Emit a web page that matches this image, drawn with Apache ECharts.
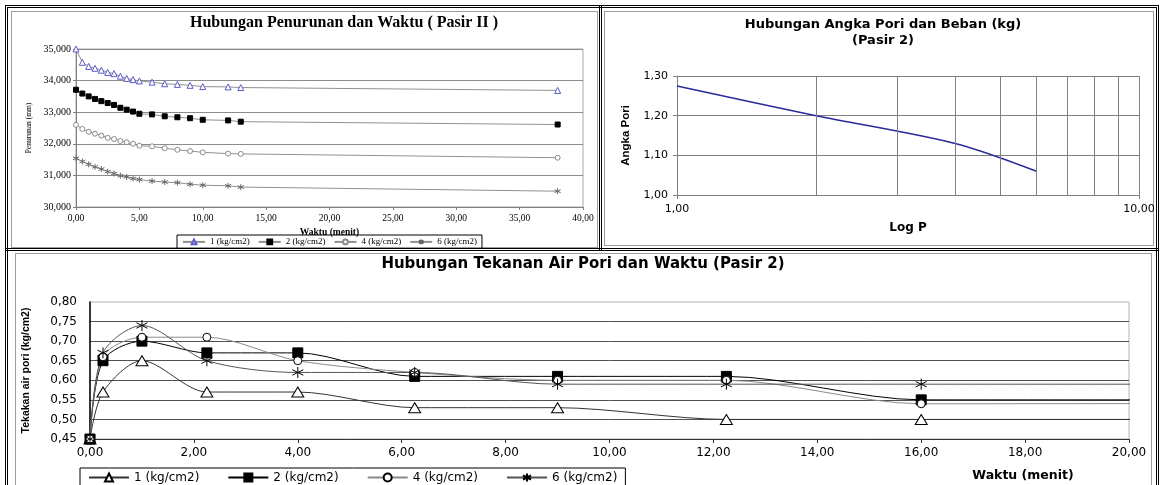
<!DOCTYPE html>
<html>
<head>
<meta charset="utf-8">
<script src="https://cdn.jsdelivr.net/npm/echarts@6/dist/echarts.min.js"></script>
<style>
  html, body { margin: 0; padding: 0; background: #fff; }
  body { width: 1161px; height: 485px; position: relative; overflow: hidden; }
  .box { position: absolute; box-sizing: border-box; }
  #outer { left: 5px; top: 5px; width: 1154px; height: 500px; border: 3px double #000; }
  #sepV { left: 599px; top: 5px; width: 4px; height: 245px; border-left: 3px double #000; }
  #sepH { left: 5px; top: 248px; width: 1154px; height: 4px; border-top: 3px double #000; }
  .panel { border: 1px solid #9c9c9c; }
  #panelA { left: 11px; top: 11px; width: 587px; height: 237px; }
  #panelB { left: 604px; top: 11px; width: 550px; height: 235px; }
  #panelC { left: 15px; top: 253px; width: 1137px; height: 250px; }
  .chart { position: absolute; }
  #chartA { left: 8px; top: 8px; width: 591px; height: 241px; }
  #chartB { left: 600px; top: 8px; width: 558px; height: 241px; }
  #chartC { left: 8px; top: 251px; width: 1147px; height: 234px; }
</style>
</head>
<body>
<div class="box" id="outer"></div>
<div class="box" id="sepV"></div>
<div class="box" id="sepH"></div>
<div class="box panel" id="panelA"></div>
<div class="box panel" id="panelB"></div>
<div class="box panel" id="panelC"></div>
<div class="chart" id="chartA"></div>
<div class="chart" id="chartB"></div>
<div class="chart" id="chartC"></div>
<script>
// beban (load) names, shared by both legends
const loadNames = ['1 (kg/cm2)', '2 (kg/cm2)', '4 (kg/cm2)', '6 (kg/cm2)'];

// penurunan vs waktu (mm, menit)
const settleTime = [0, 0.5, 1, 1.5, 2, 2.5, 3, 3.5, 4, 4.5, 5, 6, 7, 8, 9, 10, 12, 13, 38];
const settle1 = [35.00, 34.58, 34.45, 34.39, 34.33, 34.26, 34.22, 34.14, 34.07, 34.03, 33.99, 33.95, 33.90, 33.88, 33.85, 33.81, 33.80, 33.78, 33.69];
const settle2 = [33.71, 33.59, 33.50, 33.42, 33.35, 33.29, 33.23, 33.14, 33.08, 33.02, 32.95, 32.93, 32.87, 32.84, 32.81, 32.76, 32.74, 32.70, 32.61];
const settle4 = [32.60, 32.47, 32.38, 32.32, 32.26, 32.19, 32.15, 32.09, 32.05, 32.00, 31.94, 31.92, 31.86, 31.81, 31.77, 31.73, 31.69, 31.68, 31.56];
const settle6 = [31.54, 31.44, 31.35, 31.27, 31.20, 31.12, 31.06, 30.99, 30.95, 30.90, 30.87, 30.82, 30.79, 30.77, 30.72, 30.69, 30.67, 30.63, 30.50];

// angka pori vs beban (log P)
const loadP = [1, 2, 4, 6];
const voidRatio = [1.275, 1.200, 1.130, 1.060];
const logGridP = [2, 3, 4, 5, 6, 7, 8, 9];

// tekanan air pori vs waktu (kg/cm2, menit)
const poreTime = [0, 0.25, 1, 2.25, 4, 6.25, 9, 12.25, 16, 38];
const pore1 = [0.45, 0.57, 0.65, 0.57, 0.57, 0.53, 0.53, 0.50, 0.50, 0.50];
const pore2 = [0.45, 0.65, 0.70, 0.67, 0.67, 0.61, 0.61, 0.61, 0.55, 0.55];
const pore4 = [0.45, 0.66, 0.71, 0.71, 0.65, 0.62, 0.60, 0.60, 0.54, 0.545];
const pore6 = [0.45, 0.67, 0.74, 0.65, 0.62, 0.62, 0.59, 0.59, 0.59, 0.59];

const serif = '"Liberation Serif", "Times New Roman", serif';
const sans = '"DejaVu Sans", sans-serif';
const arial = '"Liberation Sans", Arial, sans-serif';
const starPath = 'path://M5,0L5,10M0.7,2.5L9.3,7.5M9.3,2.5L0.7,7.5';

function comma(v, d) {
  return Number(v).toFixed(d).replace('.', ',');
}
function pairs(xs, ys) {
  return xs.map((x, i) => [x, ys[i]]);
}

// ---------- Hubungan Penurunan dan Waktu ----------
const chartA = echarts.init(document.getElementById('chartA'));
const styleA = [
  { data: settle1, symbol: 'triangle', size: 6, fill: '#fff', stroke: '#5a5ac8' },
  { data: settle2, symbol: 'rect', size: 5, fill: '#000', stroke: '#000' },
  { data: settle4, symbol: 'circle', size: 5, fill: '#fff', stroke: '#8a8a8a' },
  { data: settle6, symbol: starPath, size: 6, fill: 'none', stroke: '#666' }
];
chartA.setOption({
  animation: false,
  title: {
    text: 'Hubungan Penurunan dan Waktu ( Pasir II )',
    left: 336, top: 7, textAlign: 'center', padding: 0,
    textStyle: { fontFamily: serif, fontSize: 16, fontWeight: 'bold', color: '#000' }
  },
  grid: { left: 68, right: 16, top: 41, bottom: 42, show: true, borderColor: '#a8a8a8', borderWidth: 1 },
  legend: {
    data: loadNames, left: 169, top: 227, padding: [2, 5], itemGap: 8,
    itemWidth: 22, itemHeight: 6, borderColor: '#000', borderWidth: 1,
    textStyle: { fontFamily: serif, fontSize: 9, color: '#000' }
  },
  xAxis: {
    type: 'value', min: 0, max: 40, interval: 5,
    name: 'Waktu (menit)', nameLocation: 'middle', nameGap: 18,
    nameTextStyle: { fontFamily: serif, fontSize: 9.5, fontWeight: 'bold', color: '#000' },
    axisLine: { lineStyle: { color: '#808080' } },
    axisTick: { length: 3, lineStyle: { color: '#808080' } },
    axisLabel: { margin: 6, formatter: v => comma(v, 2), fontFamily: serif, fontSize: 9.5, color: '#000' },
    splitLine: { show: false }
  },
  yAxis: {
    type: 'value', min: 30, max: 35, interval: 1,
    name: 'Penurunan (mm)', nameLocation: 'middle', nameGap: 43,
    nameTextStyle: { fontFamily: serif, fontSize: 7.5, color: '#000' },
    axisLine: { show: true, lineStyle: { color: '#808080' } },
    axisTick: { show: true, length: 3, lineStyle: { color: '#808080' } },
    axisLabel: { margin: 5, formatter: v => comma(v, 3), fontFamily: serif, fontSize: 10, color: '#000' },
    splitLine: { lineStyle: { color: '#8c8c8c' } }
  },
  series: styleA.map((s, i) => ({
    name: loadNames[i], type: 'line', data: pairs(settleTime, s.data),
    symbol: s.symbol, symbolSize: s.size,
    itemStyle: { color: s.fill, borderColor: s.stroke, borderWidth: 1 },
    lineStyle: { color: '#8f8f8f', width: 1 }
  }))
});

// ---------- Hubungan Angka Pori dan Beban ----------
const chartB = echarts.init(document.getElementById('chartB'));
chartB.setOption({
  animation: false,
  title: {
    text: 'Hubungan Angka Pori dan Beban (kg)\n(Pasir 2)',
    left: 283, top: 9, textAlign: 'center', padding: 0,
    textStyle: { fontFamily: sans, fontSize: 13, fontWeight: 'bold', color: '#000', lineHeight: 16 }
  },
  grid: { left: 77, right: 19, top: 68, bottom: 54 },
  xAxis: {
    type: 'log', logBase: 10, min: 1, max: 10,
    name: 'Log P', nameLocation: 'middle', nameGap: 27,
    nameTextStyle: { fontFamily: sans, fontSize: 12, fontWeight: 'bold', color: '#000' },
    axisLine: { lineStyle: { color: '#808080' } },
    axisTick: { length: 4, lineStyle: { color: '#808080' } },
    axisLabel: { margin: 9, showMinLabel: true, showMaxLabel: true, formatter: v => comma(v, 2), fontFamily: sans, fontSize: 11, color: '#000' },
    splitLine: { show: true, lineStyle: { color: '#808080' } }
  },
  yAxis: {
    type: 'value', min: 1.0, max: 1.3, interval: 0.1,
    name: 'Angka Pori', nameLocation: 'middle', nameGap: 45,
    nameTextStyle: { fontFamily: arial, fontSize: 11.5, fontWeight: 'bold', color: '#000' },
    axisLine: { show: true, lineStyle: { color: '#808080' } },
    axisTick: { show: true, length: 4, lineStyle: { color: '#808080' } },
    axisLabel: { margin: 9, formatter: v => comma(v, 2), fontFamily: sans, fontSize: 11, color: '#000' },
    splitLine: { lineStyle: { color: '#808080' } }
  },
  series: [{
    type: 'line', data: pairs(loadP, voidRatio), showSymbol: false, smooth: 0.3,
    lineStyle: { color: '#2a2a9c', width: 1.5 },
    markLine: {
      silent: true, symbol: ['none', 'none'], label: { show: false },
      lineStyle: { color: '#808080', type: 'solid', width: 1 },
      data: logGridP.map(p => ({ xAxis: p }))
    }
  }]
});

// ---------- Hubungan Tekanan Air Pori dan Waktu ----------
const chartC = echarts.init(document.getElementById('chartC'));
const styleC = [
  { data: pore1, symbol: 'triangle', size: [12, 10], fill: '#fff', stroke: '#000', line: '#333' },
  { data: pore2, symbol: 'rect', size: 10, fill: '#000', stroke: '#000', line: '#000' },
  { data: pore4, symbol: 'circle', size: 8, fill: '#fff', stroke: '#000', line: '#8a8a8a' },
  { data: pore6, symbol: starPath, size: 11, fill: 'none', stroke: '#000', line: '#555' }
];
chartC.setOption({
  animation: false,
  title: {
    text: 'Hubungan Tekanan Air Pori dan Waktu (Pasir 2)',
    left: 575, top: 6, textAlign: 'center', padding: 0,
    textStyle: { fontFamily: sans, fontSize: 15, fontWeight: 'bold', color: '#000' }
  },
  grid: { left: 82, right: 26, top: 51, bottom: 46, show: true, borderColor: '#b4b4b4', borderWidth: 1 },
  legend: {
    data: loadNames, left: 72, top: 217, padding: [3, 8], itemGap: 28,
    itemWidth: 40, itemHeight: 10, borderColor: '#000', borderWidth: 1,
    textStyle: { fontFamily: sans, fontSize: 12, color: '#000' }
  },
  graphic: [{
    type: 'text', x: 1015, y: 225,
    style: { text: 'Waktu (menit)', align: 'center', verticalAlign: 'middle', fontFamily: sans, fontSize: 12.5, fontWeight: 'bold', fill: '#000' }
  }],
  xAxis: {
    type: 'value', min: 0, max: 20, interval: 2,
    axisLine: { lineStyle: { color: '#333' } },
    axisTick: { length: 4, lineStyle: { color: '#333' } },
    axisLabel: { margin: 8, formatter: v => comma(v, 2), fontFamily: sans, fontSize: 12, color: '#000' },
    splitLine: { show: false }
  },
  yAxis: {
    type: 'value', min: 0.45, max: 0.80, interval: 0.05,
    name: 'Tekakan air pori (kg/cm2)', nameLocation: 'middle', nameGap: 58,
    nameTextStyle: { fontFamily: arial, fontSize: 10.5, fontWeight: 'bold', color: '#000' },
    axisLine: { show: true, lineStyle: { color: '#000', width: 1.5 } },
    axisTick: { show: false },
    axisLabel: { margin: 13, formatter: v => comma(v, 2), fontFamily: sans, fontSize: 12, color: '#000' },
    splitLine: { showMaxLine: false, lineStyle: { color: '#505050' } }
  },
  series: styleC.map((s, i) => ({
    name: loadNames[i], type: 'line', data: pairs(poreTime, s.data), smooth: 0.3,
    symbol: s.symbol, symbolSize: s.size,
    itemStyle: { color: s.fill, borderColor: s.stroke, borderWidth: 1 },
    lineStyle: { color: s.line, width: 1 }
  }))
});
</script>
</body>
</html>
